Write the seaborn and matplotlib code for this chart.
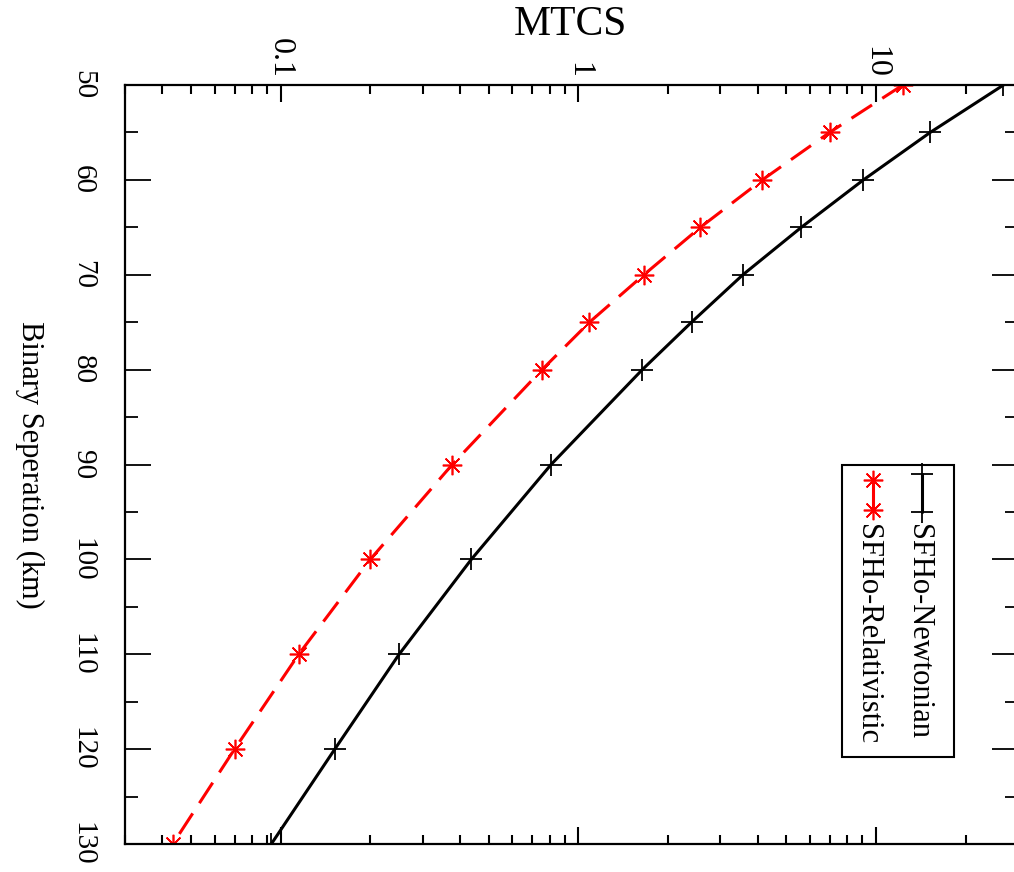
import numpy as np
import pandas as pd
import matplotlib
matplotlib.use("Agg")
import matplotlib.pyplot as plt
from matplotlib.ticker import FixedLocator, FuncFormatter, LogLocator, NullFormatter, MultipleLocator
from matplotlib.patches import Rectangle
import seaborn as sns

# Data
separation = [50, 55, 60, 65, 70, 75, 80, 90, 100, 110, 120, 130]
mtcs_newtonian = [26.8, 15.2, 9.07, 5.61, 3.57, 2.40, 1.64, 0.81, 0.437, 0.250, 0.152, 0.093]
mtcs_relativistic = [12.3, 6.98, 4.15, 2.57, 1.66, 1.09, 0.755, 0.377, 0.200, 0.115, 0.070, 0.0434]
legend_labels = ["SFHo-Newtonian", "SFHo-Relativistic"]

df_n = pd.DataFrame({"sep": separation, "mtcs": mtcs_newtonian})
df_r = pd.DataFrame({"sep": separation, "mtcs": mtcs_relativistic})

sns.set_style("ticks")
plt.rcParams["font.family"] = ["Liberation Serif", "DejaVu Serif"]
for k in ["text.color", "axes.labelcolor", "xtick.color", "ytick.color", "axes.edgecolor"]:
    plt.rcParams[k] = "black"

fig = plt.figure(figsize=(10.14, 8.72), dpi=100)
ax = fig.add_axes([0.1233, 0.0321, 0.8807, 0.8704])

sns.lineplot(data=df_n, x="mtcs", y="sep", orient="y", ax=ax, color="black",
             lw=2.2, marker="+", markersize=16, mew=1.3, mec="black")
sns.lineplot(data=df_r, x="mtcs", y="sep", orient="y", ax=ax, color="red",
             lw=2.2, linestyle=(0, (8, 4)), marker=(8, 2, 0), markersize=14,
             mew=1.2, mec="red")

ax.set_xscale("log")
ax.set_xlim(0.03, 30)
ax.set_ylim(130, 50)

# top axis like the rotated original
ax.xaxis.tick_top()
ax.xaxis.set_major_locator(FixedLocator([0.1, 1, 10]))
ax.xaxis.set_major_formatter(FuncFormatter(lambda v, p: "%g" % v))
ax.xaxis.set_minor_locator(LogLocator(base=10, subs=np.arange(2, 10)))
ax.xaxis.set_minor_formatter(NullFormatter())
ax.yaxis.set_major_locator(MultipleLocator(10))
ax.yaxis.set_minor_locator(MultipleLocator(5))

ax.tick_params(axis="x", which="both", direction="in", top=True, bottom=True,
               labeltop=True, labelbottom=False, labelrotation=-90, labelsize=23, pad=5)
ax.tick_params(axis="x", which="major", length=12, width=1.5)
ax.tick_params(axis="x", which="minor", length=6.5, width=1.5)
ax.tick_params(axis="y", which="both", direction="in", left=True, right=True,
               labelrotation=-90, labelsize=21, pad=21)
ax.tick_params(axis="y", which="major", length=19, width=1.3)
ax.tick_params(axis="y", which="minor", length=9.5, width=1.3)
for lbl in ax.get_yticklabels():
    lbl.set_va("center")
for s in ax.spines.values():
    s.set_linewidth(1.6)
    s.set_color("black")

ax.set_xlabel("")
ax.set_ylabel("")
fig.text(0.563, 0.972, "MTCS", ha="center", va="center", fontsize=30)
fig.text(0.029, 0.467, "Binary Seperation (km)", rotation=-90, ha="center",
         va="center", fontsize=22)

# legend drawn by hand, rotated like the rest of the page
ax.add_patch(Rectangle((0.803, 0.1146), 0.125, 0.3847, transform=ax.transAxes,
                       fill=False, ec="black", lw=1.5, zorder=5))
ax.plot([0.8925, 0.8925], [0.4875, 0.4374], transform=ax.transAxes, color="black",
        lw=2.2, marker="+", markersize=16, mew=1.3, zorder=6)
ax.plot([0.8376, 0.8376], [0.4796, 0.440], transform=ax.transAxes, color="red",
        lw=2.2, marker=(8, 2, 0), markersize=14, mew=1.2, zorder=6)
ax.text(0.889, 0.4216, legend_labels[0], transform=ax.transAxes, rotation=-90,
        ha="center", va="top", fontsize=22, zorder=6)
ax.text(0.831, 0.4216, legend_labels[1], transform=ax.transAxes, rotation=-90,
        ha="center", va="top", fontsize=22, zorder=6)

fig.savefig("out.png", dpi=100)
